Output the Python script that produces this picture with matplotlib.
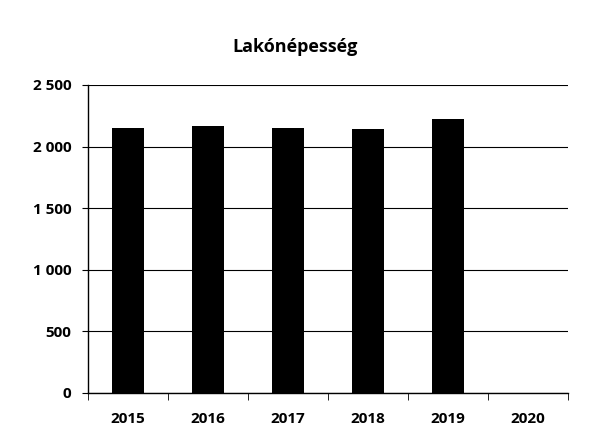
import matplotlib
matplotlib.use("Agg")
import matplotlib.pyplot as plt
from matplotlib.ticker import FuncFormatter, MultipleLocator

years = ["2015", "2016", "2017", "2018", "2019", "2020"]
population = [2150, 2170, 2150, 2145, 2220, 0]

plt.rcParams["font.family"] = ["Open Sans", "DejaVu Sans"]
plt.rcParams["font.weight"] = "bold"

fig = plt.figure(figsize=(5.9, 4.4), dpi=100)
ax = fig.add_axes([0.149, 0.107, 0.814, 0.70])

x = range(len(years))
ax.bar(x, population, width=0.4, color="black", zorder=3)

ax.set_xlim(-0.5, len(years) - 0.5)
ax.set_ylim(0, 2500)
ax.yaxis.set_major_locator(MultipleLocator(500))
ax.yaxis.set_major_formatter(FuncFormatter(lambda v, p: f"{int(v):,}".replace(",", " ")))
ax.grid(axis="y", color="black", lw=0.8, zorder=0)

ax.set_xticks(x)
ax.set_xticklabels(years)
ax.set_xticks([i + 0.5 for i in range(-1, len(years))], minor=True)
ax.tick_params(axis="x", which="major", length=0, pad=14, labelsize=11)
ax.tick_params(axis="x", which="minor", length=5, direction="out", color="black")
ax.tick_params(axis="y", length=4, direction="out", pad=8, labelsize=11, color="black")

for s in ("top", "right"):
    ax.spines[s].set_visible(False)
for s in ("left", "bottom"):
    ax.spines[s].set_color("black")
    ax.spines[s].set_linewidth(1.0)

fig.text(0.5, 0.893, "Lakónépesség", ha="center", va="center", fontsize=13, fontweight="bold")

fig.savefig("out.png", dpi=100)
